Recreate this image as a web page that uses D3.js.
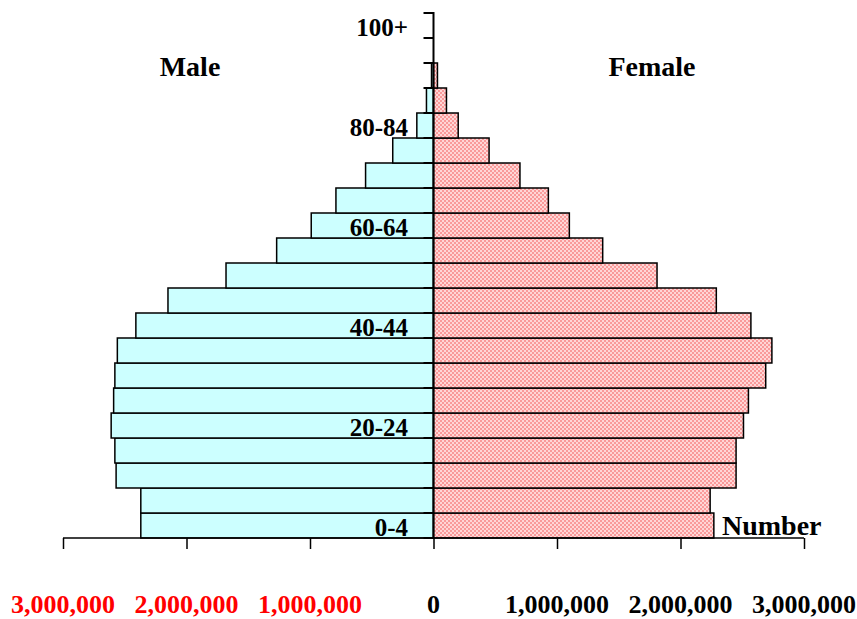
<!DOCTYPE html>
<html>
<head>
<meta charset="utf-8">
<script src="https://cdn.jsdelivr.net/npm/d3@7"></script>
<style>
  html, body { margin: 0; padding: 0; background: #fff; }
  svg { display: block; }
  text { font-family: "Liberation Serif", "Times New Roman", serif; font-weight: bold; }
</style>
</head>
<body>
<svg id="chart" width="857" height="619"></svg>
<script>
// ---- data ----
const ageGroups = ["0-4","5-9","10-14","15-19","20-24","25-29","30-34","35-39","40-44","45-49",
  "50-54","55-59","60-64","65-69","70-74","75-79","80-84","85-89","90-94","95-99","100+"];
const maleValues = [2370000, 2370000, 2570000, 2580000, 2610000, 2590000, 2580000, 2560000, 2410000, 2150000,
  1680000, 1270000, 990000, 790000, 550000, 330000, 135000, 57000, 16000, 0, 0];
const femaleValues = [2270000, 2240000, 2450000, 2450000, 2510000, 2550000, 2690000, 2740000, 2570000, 2290000,
  1810000, 1370000, 1100000, 930000, 700000, 450000, 200000, 105000, 32000, 0, 0];
const labeledGroups = ["0-4","20-24","40-44","60-64","80-84","100+"];
const tickValues = [-3000000, -2000000, -1000000, 0, 1000000, 2000000, 3000000];

// ---- layout ----
const svg = d3.select("#chart");
const x = d3.scaleLinear().domain([-3000000, 3000000]).range([63, 804]);
const y = d3.scaleBand().domain(ageGroups).range([538, 13]).paddingInner(0);

// pattern for female bars
const defs = svg.append("defs");
const pat = defs.append("pattern").attr("id", "pinkCheck")
  .attr("patternUnits", "userSpaceOnUse").attr("width", 4).attr("height", 4);
pat.append("rect").attr("width", 4).attr("height", 4).attr("fill", "#ffd6d6");
pat.append("rect").attr("x", 0).attr("y", 0).attr("width", 2).attr("height", 2).attr("fill", "#f99a9a");
pat.append("rect").attr("x", 2).attr("y", 2).attr("width", 2).attr("height", 2).attr("fill", "#f99a9a");

const data = ageGroups.map((g, i) => ({ g, m: maleValues[i], f: femaleValues[i] }));

// male bars
svg.append("g").selectAll("rect").data(data.filter(d => d.m > 0)).join("rect")
  .attr("x", d => x(-d.m)).attr("y", d => y(d.g))
  .attr("width", d => x(0) - x(-d.m)).attr("height", y.bandwidth())
  .attr("fill", "#ccffff").attr("stroke", "#000").attr("stroke-width", 1.5);

// female bars
svg.append("g").selectAll("rect").data(data.filter(d => d.f > 0)).join("rect")
  .attr("x", x(0)).attr("y", d => y(d.g))
  .attr("width", d => x(d.f) - x(0)).attr("height", y.bandwidth())
  .attr("fill", "url(#pinkCheck)").attr("stroke", "#000").attr("stroke-width", 1.5);

// vertical axis with ticks at category boundaries
const vAxis = svg.append("g");
vAxis.append("line").attr("x1", x(0)).attr("x2", x(0)).attr("y1", y.range()[1] - 1).attr("y2", y.range()[0])
  .attr("stroke", "#000").attr("stroke-width", 2);
const boundaries = ageGroups.map(g => y(g)).concat([y.range()[0]]);
vAxis.selectAll("line.t").data(boundaries).join("line").attr("class", "t")
  .attr("x1", x(0) - 10).attr("x2", x(0)).attr("y1", d => d).attr("y2", d => d)
  .attr("stroke", "#000").attr("stroke-width", 2);

// bottom axis
const axis = d3.axisBottom(x).tickValues(tickValues).tickSize(11).tickFormat("");
const gx = svg.append("g").attr("transform", "translate(0,538)").call(axis);
gx.select(".domain").attr("stroke", "#000").attr("stroke-width", 1.5).attr("d", `M${x(-3000000)},0H${x(3000000)}`);
gx.selectAll(".tick line").attr("stroke", "#000").attr("stroke-width", 1.5);

// bottom tick labels
const fmt = d3.format(",");
svg.append("g").selectAll("text").data(tickValues).join("text")
  .attr("x", d => x(d)).attr("y", 613).attr("text-anchor", "middle")
  .attr("font-size", 26)
  .attr("fill", d => d < 0 ? "#ff0000" : "#000")
  .text(d => fmt(Math.abs(d)));

// age labels
svg.append("g").selectAll("text").data(labeledGroups).join("text")
  .attr("x", 408).attr("y", d => y(d) + y.bandwidth() / 2 + 10.5)
  .attr("text-anchor", "end").attr("font-size", 25).attr("fill", "#000")
  .text(d => d);

// titles
svg.append("text").attr("x", 190).attr("y", 76).attr("text-anchor", "middle").attr("font-size", 28).text("Male");
svg.append("text").attr("x", 652).attr("y", 76).attr("text-anchor", "middle").attr("font-size", 28).text("Female");
svg.append("text").attr("x", 722).attr("y", 535).attr("text-anchor", "start").attr("font-size", 28).text("Number");
</script>
</body>
</html>
